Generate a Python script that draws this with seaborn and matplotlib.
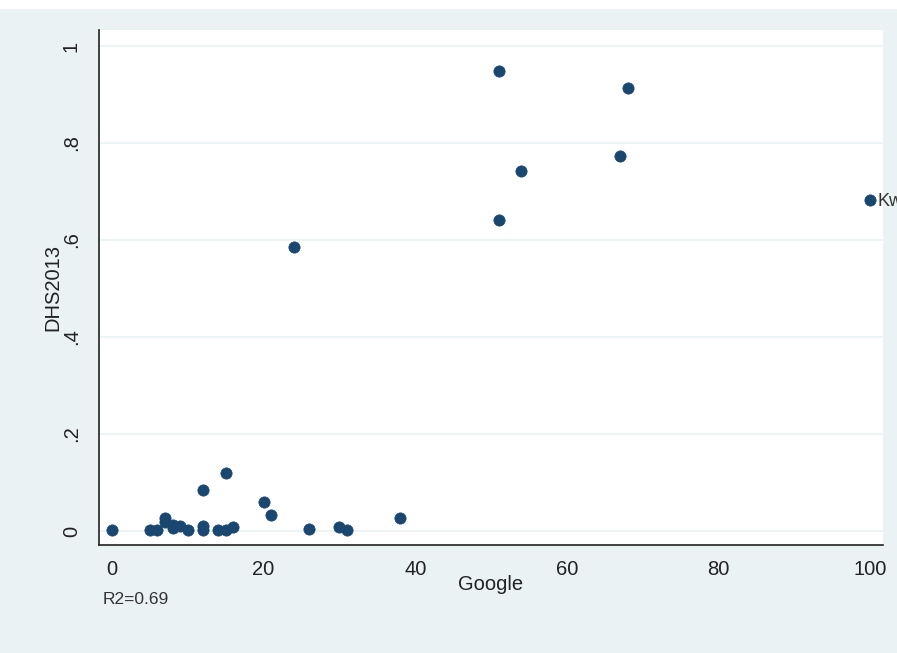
import matplotlib
matplotlib.use("Agg")
import matplotlib.pyplot as plt
import seaborn as sns
import pandas as pd

# Google search index vs DHS 2013 values
google = [0, 5, 6, 7, 7, 8, 8, 9, 10, 12, 12, 12, 14, 15, 15, 16,
          20, 21, 24, 26, 30, 31, 38, 51, 51, 54, 67, 68, 100]
dhs2013 = [0.003, 0.002, 0.002, 0.027, 0.018, 0.006, 0.013, 0.010, 0.001,
           0.085, 0.010, 0.003, 0.001, 0.120, 0.001, 0.008, 0.060, 0.033,
           0.586, 0.004, 0.008, 0.001, 0.027, 0.948, 0.641, 0.742, 0.773,
           0.913, 0.682]
labelled = {"Kwara": (100, 0.682)}
xticks = [0, 20, 40, 60, 80, 100]
yticks = [0, 0.2, 0.4, 0.6, 0.8, 1.0]
ytick_labels = ["0", ".2", ".4", ".6", ".8", "1"]

df = pd.DataFrame({"Google": google, "DHS2013": dhs2013})

sns.set_style("white")
plt.rcParams["font.family"] = ["Liberation Sans", "DejaVu Sans"]

bg = "#eaf2f3"
fig = plt.figure(figsize=(8.97, 6.53), dpi=100, facecolor=bg)
# white strip at the very top (cut-off title area)
fig.patches.append(plt.Rectangle((0, 1 - 8 / 653), 1, 8 / 653,
                                 transform=fig.transFigure, color="white", zorder=0))
ax = fig.add_axes([99 / 897, (653 - 545) / 653, (883 - 99) / 897, (545 - 30) / 653])
ax.set_facecolor("white")

sns.scatterplot(data=df, x="Google", y="DHS2013", ax=ax, color="#1a476f",
                s=66, edgecolor="#1a476f", linewidth=0.5, zorder=3)

# point label; runs off the right edge of the image as in the original
for name, (x, y) in labelled.items():
    ax.annotate(name, (x, y), xytext=(5.5, -1), textcoords="offset points",
                fontsize=13, color="#333333", va="center", annotation_clip=False)

ax.set_xlim(-1.715, 101.7)
ax.set_ylim(-0.0289, 1.033)
ax.set_xticks(xticks)
ax.set_yticks(yticks)
ax.set_yticklabels(ytick_labels, rotation=90, va="center")
ax.yaxis.grid(True, color="#eaf2f3", linewidth=1.2)
ax.set_axisbelow(True)

for side in ["top", "right"]:
    ax.spines[side].set_visible(False)
for side in ["left", "bottom"]:
    ax.spines[side].set_color("#222222")
    ax.spines[side].set_linewidth(1.2)

ax.tick_params(axis="both", direction="out", length=8, width=1.2,
               colors="#222222", labelsize=14.5, labelcolor="#222222")
ax.tick_params(axis="x", pad=3)
ax.tick_params(axis="y", pad=5)
ax.set_xlabel("Google", fontsize=14.5, color="#222222", labelpad=-3)
ax.set_ylabel("DHS2013", fontsize=14.5, color="#222222", labelpad=0)

fig.text(103 / 897, 1 - 600 / 653, "R2=0.69", fontsize=12.5, color="#333333",
         va="center", ha="left")

fig.savefig("out.png", dpi=100, facecolor=bg)
